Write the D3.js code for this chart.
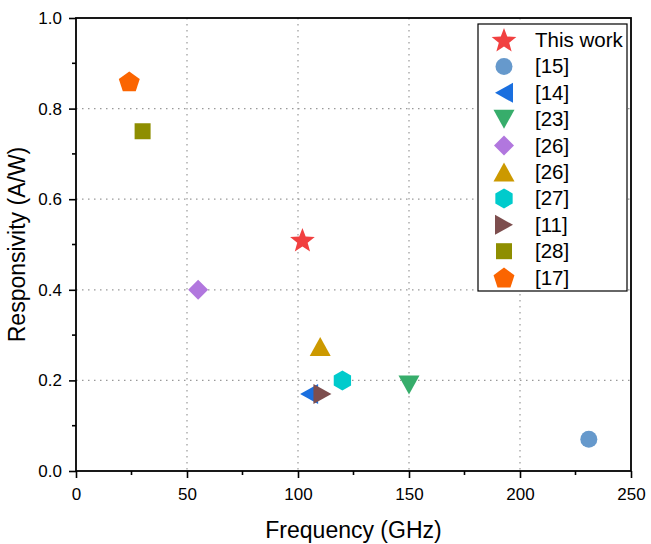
<html>
<head>
  <meta charset="UTF-8">
  <title>Responsivity vs Frequency</title>
  <script src="https://d3js.org/d3.v7.min.js"></script>
  <style>
    body { margin: 0; background: #fff; }
    text { font-family: "Liberation Sans", Arial, sans-serif; fill: #000; }
  </style>
</head>
<body>
<svg id="chart" width="651" height="544"></svg>
<script>
// data
const labels = ["This work", "[15]", "[14]", "[23]", "[26]", "[26]", "[27]", "[11]", "[28]", "[17]"];
const freqs = [102, 231, 105, 150, 55, 110, 120, 111, 30, 24];
const resps = [0.51, 0.07, 0.17, 0.19, 0.40, 0.275, 0.20, 0.17, 0.75, 0.86];
const shapes = ["star", "circle", "left", "down", "diamond", "up", "hexagon", "right", "square", "pentagon"];
const colors = ["#f14040", "#6699cc", "#1a6fdf", "#37ad6b", "#b177de", "#cc9900", "#00cbcc", "#7d4e4e", "#8e8e00", "#fb6501"];

const xTicks = [0, 50, 100, 150, 200, 250];
const yTicks = [0.0, 0.2, 0.4, 0.6, 0.8, 1.0];

const svg = d3.select("#chart");
const pLeft = 76, pRight = 631, pTop = 18, pBottom = 471;

const x = d3.scaleLinear([0, 250], [pLeft, pRight]);
const y = d3.scaleLinear([0, 1], [pBottom, pTop]);

// symbol shapes
function poly(pts) {
  return {draw(ctx) {
    pts.forEach((p, i) => i ? ctx.lineTo(p[0], p[1]) : ctx.moveTo(p[0], p[1]));
    ctx.closePath();
  }};
}
function regular(n, r, rot) {
  return d3.range(n).map(i => {
    const a = rot + i * 2 * Math.PI / n;
    return [r * Math.sin(a), -r * Math.cos(a)];
  });
}
function star(r) {
  return d3.range(10).map(i => {
    const a = i * Math.PI / 5;
    const rr = i % 2 ? r * 0.42 : r;
    return [rr * Math.sin(a), -rr * Math.cos(a) + 1];
  });
}
const symbolTypes = {
  star: poly(star(13)),
  circle: {draw(ctx) { ctx.moveTo(8.5, 0); ctx.arc(0, 0, 8.5, 0, 2 * Math.PI); }},
  left: poly([[-9, 0], [9, -10], [9, 10]]),
  right: poly([[9, 0], [-9, -10], [-9, 10]]),
  up: poly([[0, -9.5], [10.5, 9.5], [-10.5, 9.5]]),
  down: poly([[0, 9.5], [10.5, -9.5], [-10.5, -9.5]]),
  diamond: poly([[0, -10], [10, 0], [0, 10], [-10, 0]]),
  hexagon: poly(regular(6, 10, 0)),
  square: poly([[-8, -8], [8, -8], [8, 8], [-8, 8]]),
  pentagon: poly(regular(5, 11, 0).map(p => [p[0], p[1] + 1]))
};
const sym = s => d3.symbol(symbolTypes[s])();

// grid
const grid = svg.append("g").attr("stroke", "#999").attr("stroke-width", 1.2)
  .attr("stroke-dasharray", "1.5,4.5");
grid.selectAll("line.gx").data(xTicks.slice(1, -1)).join("line")
  .attr("x1", d => x(d)).attr("x2", d => x(d)).attr("y1", pTop).attr("y2", pBottom);
grid.selectAll("line.gy").data(yTicks.slice(1, -1)).join("line")
  .attr("y1", d => y(d)).attr("y2", d => y(d)).attr("x1", pLeft).attr("x2", pRight);

// axes
const xAxis = d3.axisBottom(x).tickValues(xTicks).tickFormat(d3.format("d")).tickSize(7).tickPadding(10);
const yAxis = d3.axisLeft(y).tickValues(yTicks).tickFormat(d3.format(".1f")).tickSize(7).tickPadding(7);

const gx = svg.append("g").attr("transform", `translate(0,${pBottom})`).call(xAxis);
const gy = svg.append("g").attr("transform", `translate(${pLeft},0)`).call(yAxis);
[gx, gy].forEach(g => {
  g.select(".domain").remove();
  g.selectAll("line").attr("stroke", "#000").attr("stroke-width", 1.6);
  g.selectAll("text").style("font-size", "17px").attr("fill", "#000");
});

// minor ticks
svg.append("g").selectAll("line").data(d3.range(25, 250, 50)).join("line")
  .attr("x1", d => x(d)).attr("x2", d => x(d)).attr("y1", pBottom).attr("y2", pBottom + 4)
  .attr("stroke", "#000").attr("stroke-width", 1.6);
svg.append("g").selectAll("line").data(d3.range(0.1, 1, 0.2)).join("line")
  .attr("y1", d => y(d)).attr("y2", d => y(d)).attr("x1", pLeft).attr("x2", pLeft - 4)
  .attr("stroke", "#000").attr("stroke-width", 1.6);

// frame
svg.append("rect").attr("x", pLeft).attr("y", pTop).attr("width", pRight - pLeft).attr("height", pBottom - pTop)
  .attr("fill", "none").attr("stroke", "#000").attr("stroke-width", 1.8);

// points
const pts = labels.map((l, i) => ({l, f: freqs[i], r: resps[i], s: shapes[i], c: colors[i]}));
svg.append("g").selectAll("path").data(pts).join("path")
  .attr("d", d => sym(d.s))
  .attr("fill", d => d.c)
  .attr("transform", d => `translate(${x(d.f)},${y(d.r)})`);

// legend
const lg = svg.append("g");
lg.append("rect").attr("x", 478).attr("y", 24).attr("width", 149).attr("height", 267)
  .attr("fill", "#fff").attr("stroke", "#000").attr("stroke-width", 1.2);
const rows = lg.selectAll("g.row").data(pts).join("g").attr("class", "row")
  .attr("transform", (d, i) => `translate(0,${40 + i * 26.4})`);
rows.append("path").attr("d", d => sym(d.s)).attr("fill", d => d.c)
  .attr("transform", "translate(504,0)");
rows.append("text").attr("x", 535).attr("y", 7).style("font-size", "20.5px").text(d => d.l);

// axis titles
svg.append("text").attr("x", (pLeft + pRight) / 2).attr("y", 538).attr("text-anchor", "middle")
  .style("font-size", "23px").text("Frequency (GHz)");
svg.append("text").attr("transform", `translate(25,${(pTop + pBottom) / 2}) rotate(-90)`)
  .attr("text-anchor", "middle").style("font-size", "23px").text("Responsivity (A/W)");
</script>
</body>
</html>
